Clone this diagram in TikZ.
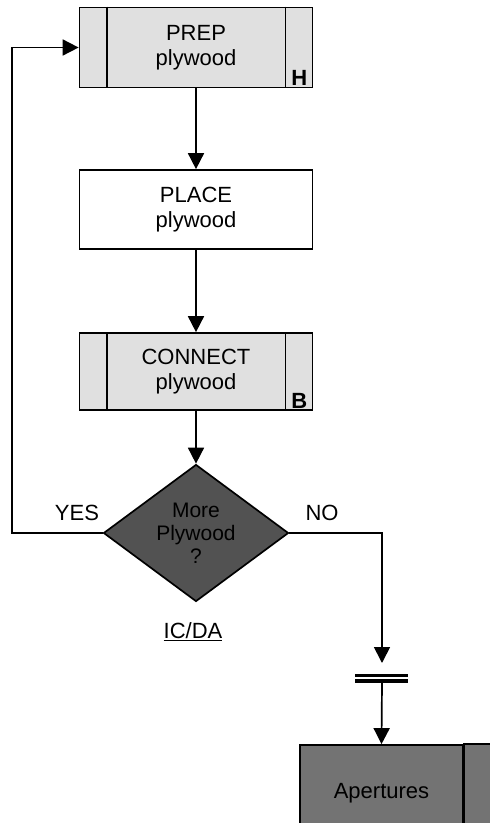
\documentclass[tikz,border=0pt]{standalone}
\usepackage{fontspec}
\setmainfont{Liberation Sans}
\usetikzlibrary{arrows.meta,shapes.geometric}

\begin{document}
\begin{tikzpicture}[x=1pt,y=-1pt,line width=1.7pt,
  procbox/.style={draw,rectangle,minimum width=233pt,minimum height=80pt,inner sep=0pt,align=center,font=\fontsize{22}{25}\selectfont},
  flow/.style={-{Triangle[length=16pt,width=16pt]}},
  lbl/.style={inner sep=0pt,font=\fontsize{22}{25}\selectfont},
  tag/.style={anchor=south,inner sep=2pt,font=\fontsize{22}{25}\selectfont\bfseries},
  bar/.style={line width=3.5pt}]
\useasboundingbox (0,0) rectangle (490,823);
\clip (0,0) rectangle (490,823);
% boxes
\node[procbox,fill=black!12] (prep) at (196,47.5) {PREP\\plywood};
\draw ([xshift=28pt]prep.north west) -- ([xshift=28pt]prep.south west);
\draw ([xshift=-28pt]prep.north east) -- ([xshift=-28pt]prep.south east);
\node[tag] (h) at ([xshift=-14pt]prep.south east) {H};
\node[procbox,fill=white,minimum height=79pt] (place) at (196,209.5) {PLACE\\plywood};
\node[procbox,fill=black!12,minimum height=77pt] (connect) at (196,371.5) {CONNECT\\plywood};
\draw ([xshift=28pt]connect.north west) -- ([xshift=28pt]connect.south west);
\draw ([xshift=-28pt]connect.north east) -- ([xshift=-28pt]connect.south east);
\node[tag] (b) at ([xshift=-14pt]connect.south east) {B};
\node[draw,diamond,fill=black!68,aspect=1.35,minimum width=185pt,minimum height=137pt,inner sep=0pt,align=center,font=\fontsize{21}{23}\selectfont] (dia) at (196,533) {More\\Plywood\\?};
\node[lbl] (icda) at (193,632) {\underline{IC/DA}};
\node[lbl] (yes) at (77,513) {YES};
\node[lbl] (no) at (322,513) {NO};
\node[draw,fill=black!55,minimum width=163pt,minimum height=96pt,inner sep=0pt,font=\fontsize{22}{25}\selectfont] (apt) at (381.5,793) {Apertures};
\draw[fill=black!55] (apt.north east) rectangle ([xshift=60pt]apt.south east);
% connectors
\draw[flow] (prep) -- (place);
\draw[flow] (place) -- (connect);
\draw[flow] (connect) -- (dia);
\coordinate (back) at (12,533);
\draw[flow] (dia.west) -- (back) |- (prep.west);
\coordinate (brktop) at (382,663);
\coordinate (brkbot) at (382,683);
\draw[flow] (dia.east) -| (brktop);
\draw[bar] (355,675.5) -- (408,675.5);
\draw[bar] (355,681) -- (408,681);
\draw[flow] (brkbot) -- (apt.north);
\end{tikzpicture}
\end{document}
